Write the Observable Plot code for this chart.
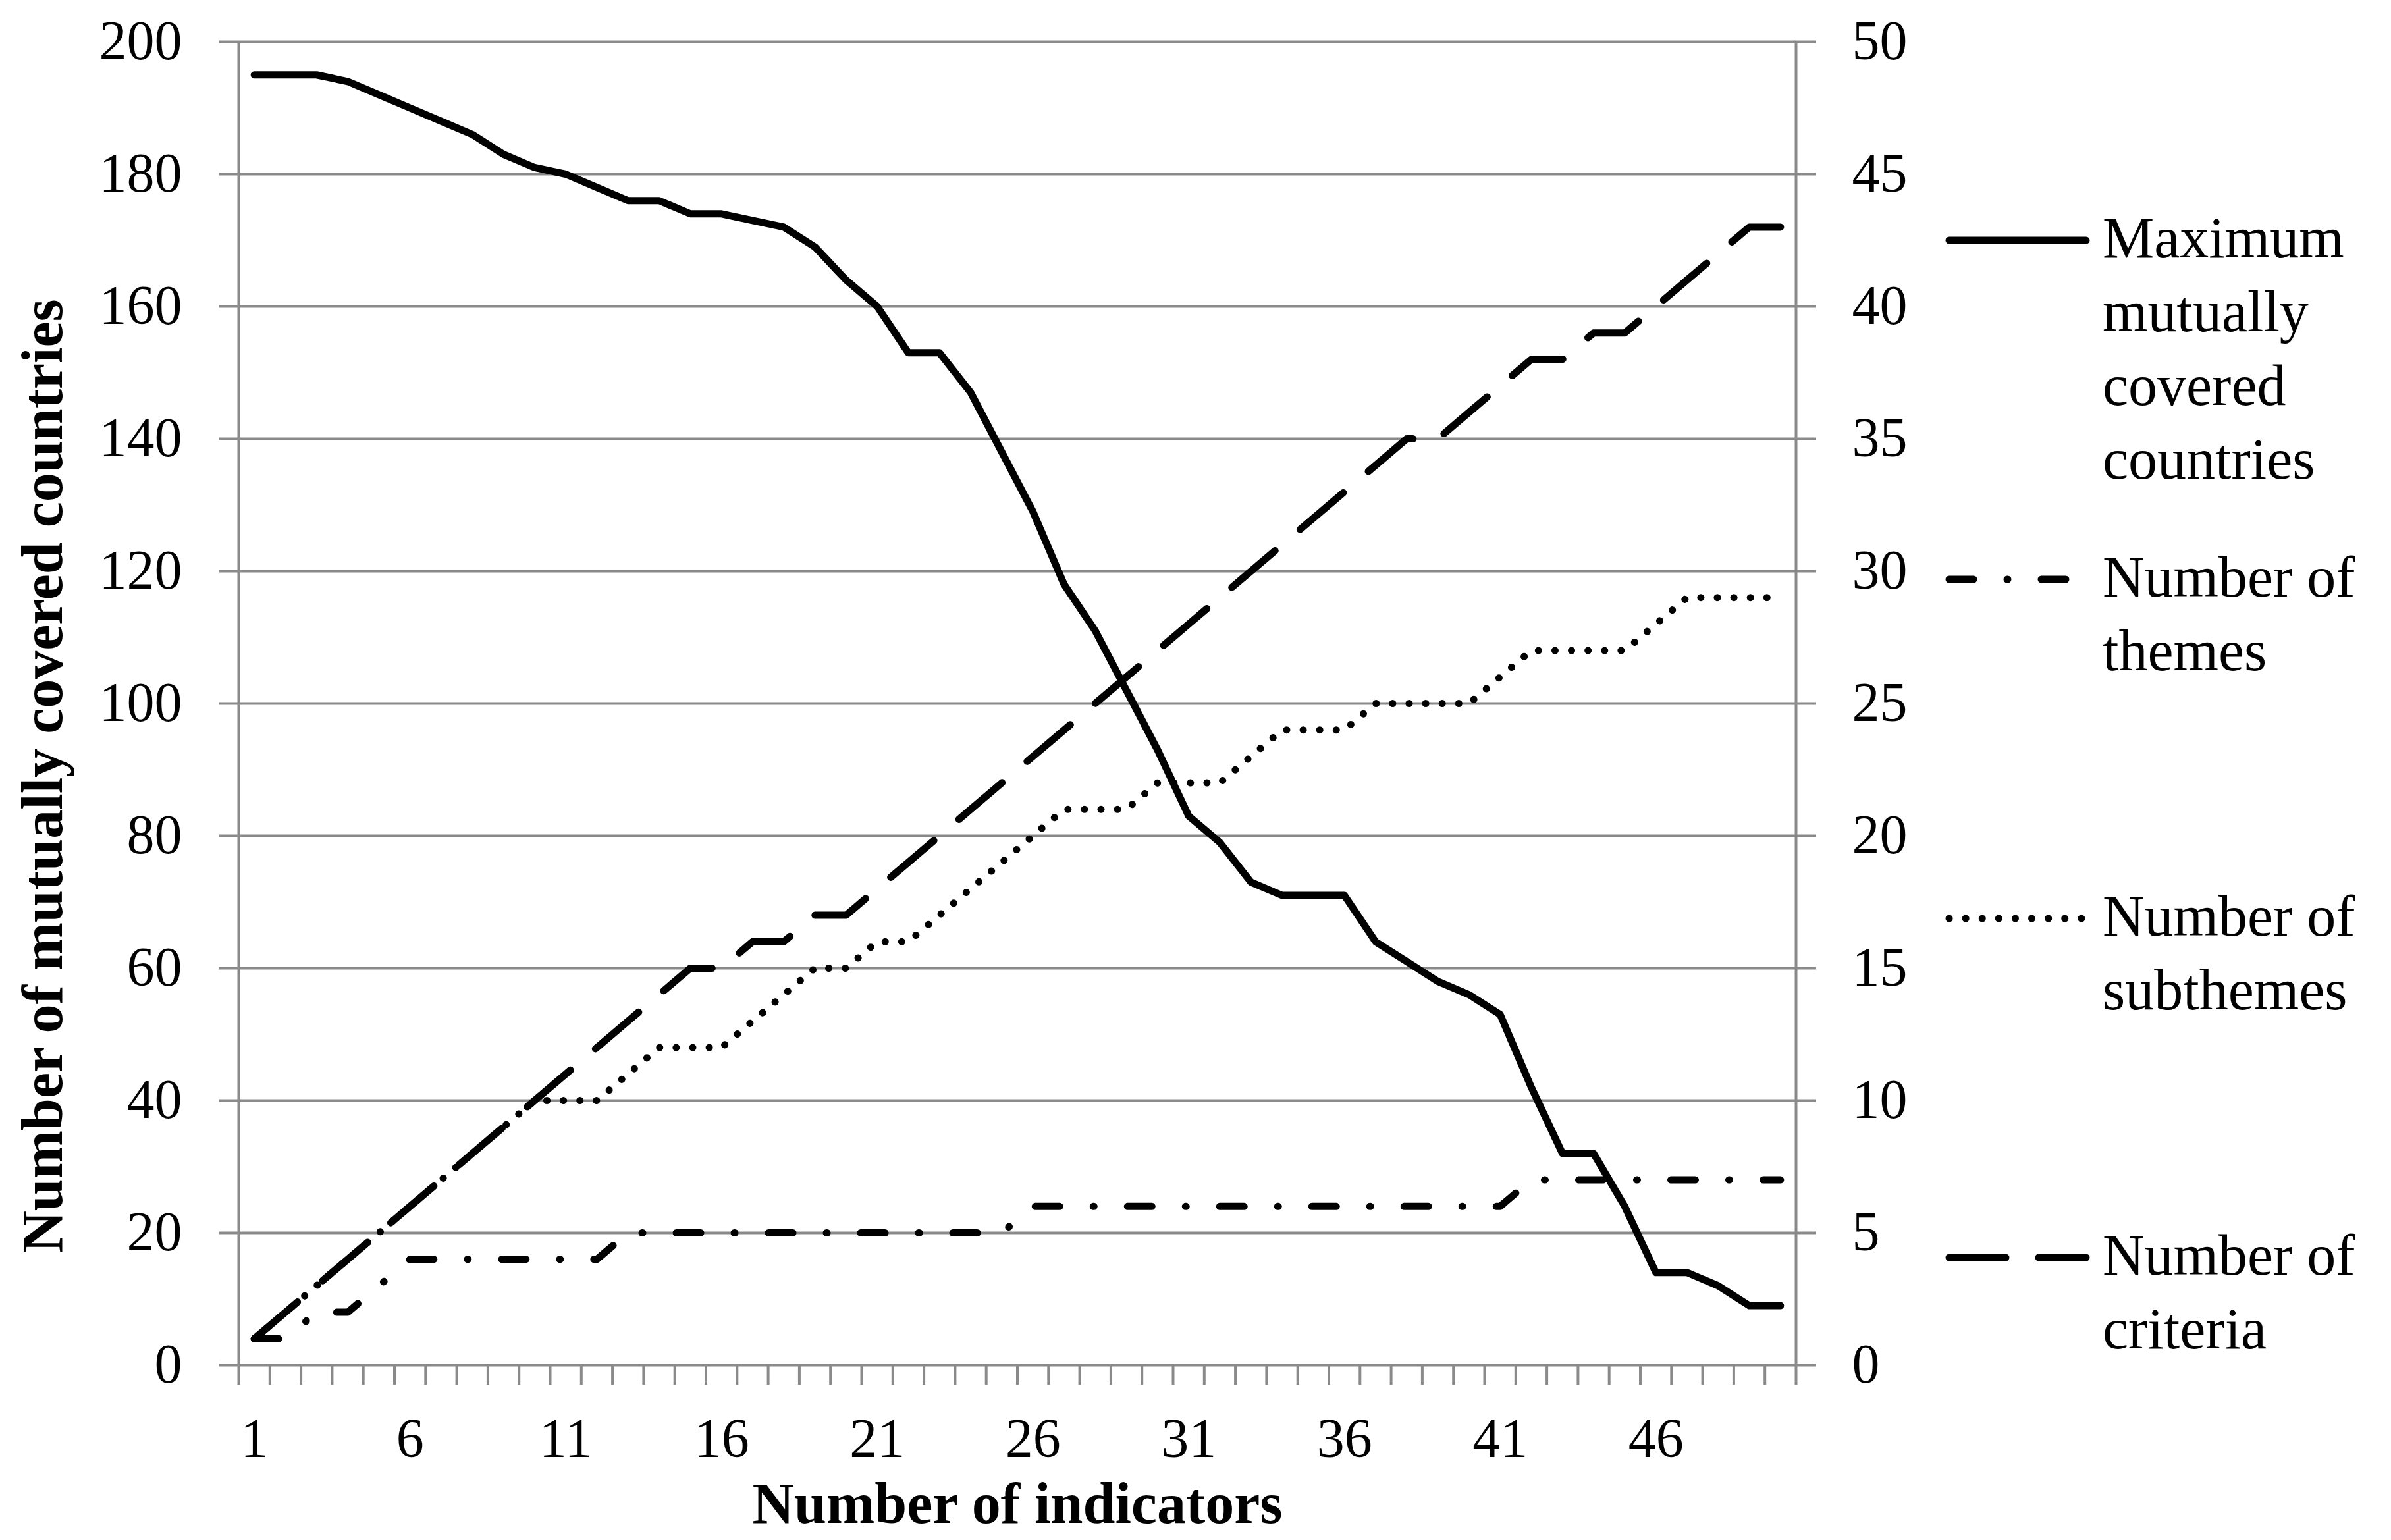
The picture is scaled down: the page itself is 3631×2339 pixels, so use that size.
<!DOCTYPE html>
<html>
<head>
<meta charset="utf-8">
<script src="https://cdn.jsdelivr.net/npm/d3@7"></script>
<script src="https://cdn.jsdelivr.net/npm/@observablehq/plot@0.6"></script>
<style>
  html, body { margin: 0; padding: 0; background: #fff; overflow: hidden; }
  #chart svg { display: block; }
</style>
</head>
<body>
<div id="chart"></div>
<script>
// ---------------- data ----------------
const indicators = [1,2,3,4,5,6,7,8,9,10,11,12,13,14,15,16,17,18,19,20,21,22,23,24,25,
                    26,27,28,29,30,31,32,33,34,35,36,37,38,39,40,41,42,43,44,45,46,47,48,49,50];
// left axis
const countries = [195,195,195,194,192,190,188,186,183,181,180,178,176,176,174,174,173,172,169,164,
                   160,153,153,147,138,129,118,111,102,93,83,79,73,71,71,71,64,61,58,56,
                   53,42,32,32,24,14,14,12,9,9];
// right axis
const themes = [1,1,2,2,3,4,4,4,4,4,4,4,5,5,5,5,5,5,5,5,
                5,5,5,5,5,6,6,6,6,6,6,6,6,6,6,6,6,6,6,6,
                6,7,7,7,7,7,7,7,7,7];
const subthemes = [1,2,3,4,5,6,7,8,9,10,10,10,11,12,12,12,13,14,15,15,
                   16,16,17,18,19,20,21,21,21,22,22,22,23,24,24,24,25,25,25,25,
                   26,27,27,27,27,28,29,29,29,29];
const criteria = [1,2,3,4,5,6,7,8,9,10,11,12,13,14,15,15,16,16,17,17,
                  18,19,20,21,22,23,24,25,26,27,28,29,30,31,32,33,34,35,35,36,
                  37,38,38,39,39,40,41,42,43,43];

const leftTicks = [0,20,40,60,80,100,120,140,160,180,200];
const rightTicks = [0,5,10,15,20,25,30,35,40,45,50];
const xTickLabels = [1,6,11,16,21,26,31,36,41,46];

const seriesNames = [
  "Maximum\nmutually\ncovered\ncountries",
  "Number of\nthemes",
  "Number of\nsubthemes",
  "Number of\ncriteria"
];
const yTitle = "Number of mutually covered countries";
const xTitle = "Number of indicators";

// ---------------- layout / style ----------------
const W = 3631, H = 2339;
const ML = 362, MR = W - 2727, MT = 63, MB = H - 2073;
const GRID = "#8a8a8a";
const SW = 11;
const FONT = '"Liberation Serif", "Times New Roman", serif';
const dashes = [null, "37,51,1,51", "0.1,25", "86,50"];
const rightFactor = 200 / 50; // right axis 0-50 mapped onto left 0-200

const rows = indicators.map((k, i) => ({
  k, countries: countries[i], themes: themes[i], subthemes: subthemes[i], criteria: criteria[i]
}));
const boundaries = indicators.map(k => k - 0.5).concat([indicators[indicators.length - 1] + 0.5]);

function lineMark(field, scale, dash) {
  return Plot.lineY(rows, {
    x: "k",
    y: d => d[field] * scale,
    stroke: "#000",
    strokeWidth: SW,
    strokeLinejoin: "round",
    strokeLinecap: "round",
    strokeDasharray: dash || undefined
  });
}

function legendMark() {
  return () => {
    const g = d3.create("svg:g").attr("text-anchor", "start");
    const x1 = 2960, x2 = 3168, tx = 3193, top = 365, step = 515, lh = 112;
    seriesNames.forEach((name, i) => {
      const y = top + i * step;
      const ln = g.append("line")
        .attr("x1", x1).attr("x2", x2).attr("y1", y).attr("y2", y)
        .attr("stroke", "#000").attr("stroke-width", SW)
        .attr("stroke-linecap", "round");
      if (dashes[i]) ln.attr("stroke-dasharray", dashes[i]);
      const t = g.append("text")
        .attr("x", tx).attr("y", y + 26)
        .attr("text-anchor", "start")
        .attr("font-family", FONT).attr("font-size", 88).attr("fill", "#000");
      name.split("\n").forEach((line, j) => {
        t.append("tspan").attr("x", tx).attr("dy", j === 0 ? 0 : lh).text(line);
      });
    });
    return g.node();
  };
}

const chart = Plot.plot({
  width: W, height: H,
  marginLeft: ML, marginRight: MR, marginTop: MT, marginBottom: MB,
  style: { fontFamily: FONT, fontSize: "84px", color: "#000", background: "#fff", overflow: "visible" },
  x: { domain: [0.5, 50.5] },
  y: { domain: [0, 200] },
  marks: [
    Plot.gridY(leftTicks, { stroke: GRID, strokeOpacity: 1, strokeWidth: 4 }),
    Plot.axisY(leftTicks, { anchor: "left", tickSize: 30, tickPadding: 56, stroke: GRID, strokeWidth: 4, label: null, tickFormat: d => String(d) }),
    Plot.axisY(rightTicks.map(v => v * rightFactor), { anchor: "right", tickSize: 30, tickPadding: 55, stroke: GRID, strokeWidth: 4, label: null, tickFormat: d => String(d / rightFactor) }),
    Plot.ruleX([0.5, 50.5], { stroke: GRID, strokeWidth: 4 }),
    Plot.axisX(boundaries, { anchor: "bottom", tickSize: 30, stroke: GRID, strokeWidth: 4, tickFormat: () => "", label: null }),
    Plot.axisX(xTickLabels, { anchor: "bottom", tickSize: 0, tickPadding: 80, label: null, tickFormat: d => String(d) }),
    lineMark("countries", 1, dashes[0]),
    lineMark("themes", rightFactor, dashes[1]),
    lineMark("subthemes", rightFactor, dashes[2]),
    lineMark("criteria", rightFactor, dashes[3]),
    Plot.text([yTitle], { frameAnchor: "left", dx: -297, dy: 110, rotate: -90, fontWeight: "bold", fontSize: 88, textAnchor: "middle", lineAnchor: "middle" }),
    Plot.text([xTitle], { frameAnchor: "bottom", dy: 211, fontWeight: "bold", fontSize: 88, textAnchor: "middle", lineAnchor: "middle" }),
    legendMark()
  ]
});
document.getElementById("chart").appendChild(chart);
</script>
</body>
</html>
